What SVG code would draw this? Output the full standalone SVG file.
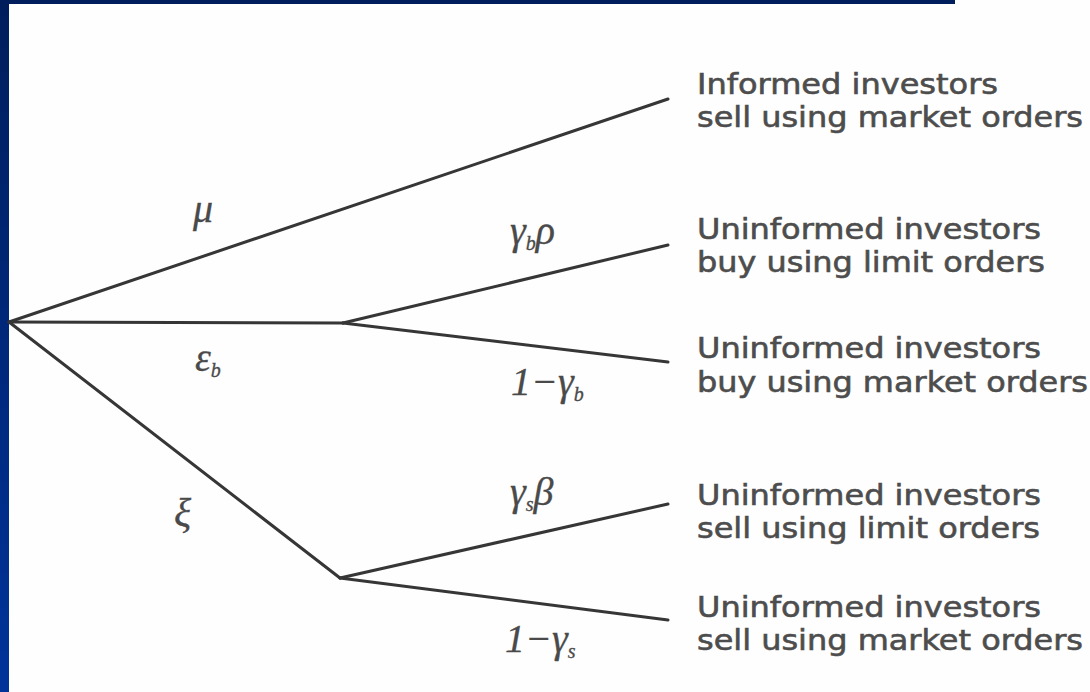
<svg xmlns="http://www.w3.org/2000/svg" width="1090" height="692" viewBox="0 0 1090 692">
  <defs>
    <linearGradient id="strip" x1="0" y1="0" x2="0" y2="1">
      <stop offset="0" stop-color="#001E5C"/>
      <stop offset="1" stop-color="#00339A"/>
    </linearGradient>
    <style>
      .edge { stroke: #363636; stroke-width: 3; fill: none; stroke-linecap: round; }
      .leaf { font-family: "DejaVu Sans", Verdana, sans-serif; font-size: 28px; fill: #4d4d4d; stroke: #4d4d4d; stroke-width: 0.6px; }
      .lbl { font-family: "Liberation Serif", "Times New Roman", serif; font-style: italic; font-size: 40px; fill: #4a4a4a; stroke: #4a4a4a; stroke-width: 0.3px; }
      .sub { font-size: 20px; }
    </style>
  </defs>
  <rect x="0" y="0" width="1090" height="692" fill="#FEFEFE"/>
  <rect x="0" y="0" width="9" height="692" fill="url(#strip)"/>
  <rect x="0" y="0" width="955" height="4" fill="#001E5C"/>

  <g id="connectors">
    <line class="edge" x1="9" y1="322" x2="668" y2="99"/>
    <line class="edge" x1="9" y1="322" x2="343" y2="323"/>
    <line class="edge" x1="343" y1="323" x2="668" y2="245"/>
    <line class="edge" x1="343" y1="323" x2="668" y2="362"/>
    <line class="edge" x1="9" y1="322" x2="340" y2="578"/>
    <line class="edge" x1="340" y1="578" x2="668" y2="504"/>
    <line class="edge" x1="340" y1="578" x2="668" y2="620"/>
    <g id="edge-labels">
      <text class="lbl" x="193" y="222">μ</text>
      <text class="lbl" x="510" y="244">γ<tspan class="sub" dy="6">b</tspan><tspan dy="-6">ρ</tspan></text>
      <text class="lbl" x="195" y="371">ε<tspan class="sub" dy="6">b</tspan></text>
      <text class="lbl" x="511" y="395">1−γ<tspan class="sub" dy="6">b</tspan></text>
      <text class="lbl" x="174" y="526">ξ</text>
      <text class="lbl" x="510" y="505">γ<tspan class="sub" dy="6">s</tspan><tspan dy="-6">β</tspan></text>
      <text class="lbl" x="505" y="652">1−γ<tspan class="sub" dy="6">s</tspan></text>
    </g>
  </g>

  <g id="node-informed-sell-market">
    <text class="leaf" x="697" y="94" textLength="301" lengthAdjust="spacingAndGlyphs">Informed investors</text>
    <text class="leaf" x="697" y="127" textLength="386" lengthAdjust="spacingAndGlyphs">sell using market orders</text>
  </g>
  <g id="node-uninformed-buy-limit">
    <text class="leaf" x="697" y="239" textLength="344" lengthAdjust="spacingAndGlyphs">Uninformed investors</text>
    <text class="leaf" x="697" y="272" textLength="348" lengthAdjust="spacingAndGlyphs">buy using limit orders</text>
  </g>
  <g id="node-uninformed-buy-market">
    <text class="leaf" x="697" y="358" textLength="344" lengthAdjust="spacingAndGlyphs">Uninformed investors</text>
    <text class="leaf" x="697" y="392" textLength="391" lengthAdjust="spacingAndGlyphs">buy using market orders</text>
  </g>
  <g id="node-uninformed-sell-limit">
    <text class="leaf" x="697" y="505" textLength="344" lengthAdjust="spacingAndGlyphs">Uninformed investors</text>
    <text class="leaf" x="697" y="538" textLength="343" lengthAdjust="spacingAndGlyphs">sell using limit orders</text>
  </g>
  <g id="node-uninformed-sell-market">
    <text class="leaf" x="697" y="617" textLength="344" lengthAdjust="spacingAndGlyphs">Uninformed investors</text>
    <text class="leaf" x="697" y="650" textLength="386" lengthAdjust="spacingAndGlyphs">sell using market orders</text>
  </g>
</svg>
